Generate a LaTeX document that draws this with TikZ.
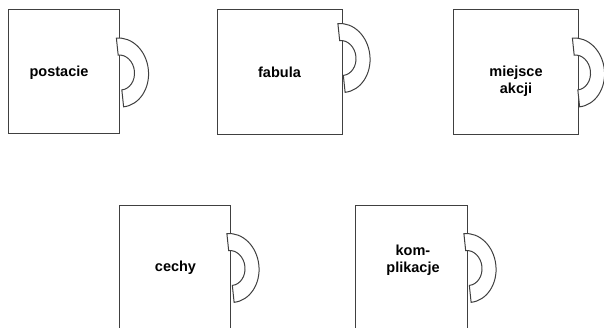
\documentclass[tikz,border=0pt]{standalone}
\usepackage{fontspec}
\setmainfont{Liberation Sans}
\usepackage{xcolor}
\usepackage{tikz}
\definecolor{edgegray}{rgb}{0.25,0.25,0.25}

\begin{document}
\begin{tikzpicture}[x=1pt, y=1pt,
    card/.style={rectangle, draw=edgegray, line width=1pt, fill=white, inner sep=0pt},
    cardtext/.style={align=center, font=\fontsize{14.5}{17.5}\selectfont\bfseries, inner sep=0pt},
    handle/.pic={
        \draw[draw=edgegray, line width=1pt, fill=white]
            (0,34.5) arc[start angle=90, end angle=-90, x radius=28.5pt, y radius=34.5pt]
            -- (0,-17.5) arc[start angle=-90, end angle=90, x radius=14.5pt, y radius=17.5pt]
            -- cycle;
    }
]
\useasboundingbox (0,0) rectangle (604,327);
\clip (0,0) rectangle (604,327);

% upper row
\node[card, minimum width=111, minimum height=124] (postacie) at (63.5,255) {};
\node[card, minimum width=125, minimum height=125] (fabula) at (279.5,254.5) {};
\node[card, minimum width=125, minimum height=125] (miejsce) at (515.5,254.5) {};

% lower row (cut at the bottom)
\node[card, minimum width=111, minimum height=124] (cechy) at (174.5,60) {};
\node[card, minimum width=112, minimum height=124] (kompl) at (411,60) {};

% half-ring handles on the right sides
\pic[rotate=6] at (120,254.5) {handle};
\pic[rotate=6] at (341.5,269) {handle};
\pic[rotate=6] at (576,254.5) {handle};
\pic[rotate=6] at (230.5,59) {handle};
\pic[rotate=6] at (467.5,59) {handle};

% labels
\node[cardtext] (postacietxt) at (59,254.5) {postacie};
\node[cardtext] (fabulatxt) at (279.5,255) {fabula};
\node[cardtext] (miejscetxt) at (516,245.5) {miejsce\\akcji};
\node[cardtext] (cechytxt) at (175.5,59) {cechy};
\node[cardtext] (kompltxt) at (413,67) {kom-\\plikacje};

\end{tikzpicture}
\end{document}
